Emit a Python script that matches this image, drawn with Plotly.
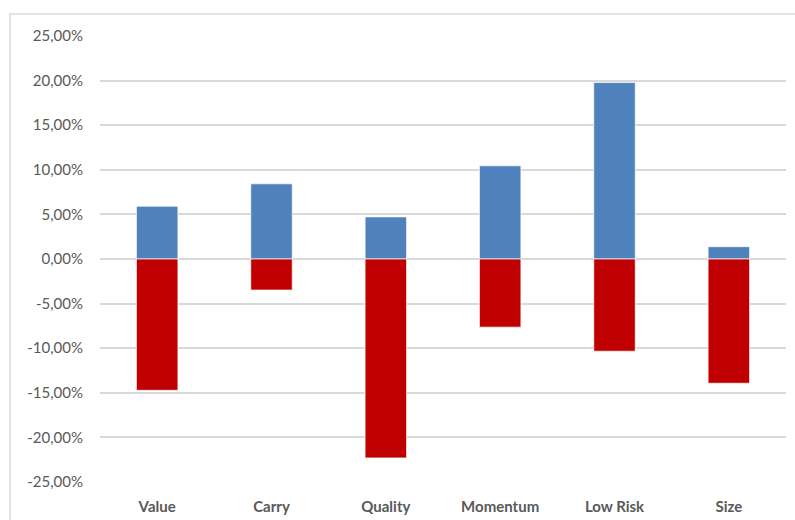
import plotly.graph_objects as go

# Factor returns (percent): best and worst outcome per factor
factors = ["Value", "Carry", "Quality", "Momentum", "Low Risk", "Size"]
upside = [5.92, 8.43, 4.72, 10.45, 19.78, 1.38]
downside = [-14.72, -3.48, -22.30, -7.64, -10.34, -13.93]

tick_values = [-25, -20, -15, -10, -5, 0, 5, 10, 15, 20, 25]
tick_labels = ["-25,00%", "-20,00%", "-15,00%", "-10,00%", "-5,00%", "0,00%",
               "5,00%", "10,00%", "15,00%", "20,00%", "25,00%"]

BLUE = "#4F81BD"
RED = "#C00000"
GRID = "#D9D9D9"
TEXT = "#595959"
FONT = "Lato, 'Open Sans', sans-serif"

fig = go.Figure()
fig.add_trace(go.Bar(
    x=factors, y=upside, marker=dict(color=BLUE, line=dict(color="rgba(255,255,255,0.7)", width=1)),
    showlegend=False,
))
fig.add_trace(go.Bar(
    x=factors, y=downside, marker=dict(color=RED, line=dict(color="rgba(255,255,255,0.7)", width=1)),
    showlegend=False,
))

fig.update_layout(
    width=795, height=520,
    margin=dict(l=100, r=9, t=36, b=38),
    barmode="relative",
    bargap=0.637,
    plot_bgcolor="white",
    paper_bgcolor="white",
    font=dict(family=FONT, size=15, color=TEXT),
    xaxis=dict(
        showgrid=False, zeroline=False, showline=False, ticks="",
        tickfont=dict(family=FONT, size=15, color=TEXT, weight="bold"),
        ticklabelstandoff=14, automargin=False,
    ),
    yaxis=dict(
        range=[-25, 25], tickvals=tick_values, ticktext=tick_labels,
        showgrid=True, gridcolor=GRID, gridwidth=1.5,
        zeroline=True, zerolinecolor=GRID, zerolinewidth=1.5,
        showline=False, ticks="", ticklabelstandoff=16, automargin=False,
        tickfont=dict(family=FONT, size=15, color=TEXT),
    ),
    shapes=[dict(
        type="rect", xref="paper", yref="paper", layer="below",
        x0=-90 / 686, x1=1.05, y0=-0.2, y1=1 + 22 / 445.5,
        line=dict(color=GRID, width=1.5), fillcolor="rgba(0,0,0,0)",
    )],
)

fig.write_html("out.html")
